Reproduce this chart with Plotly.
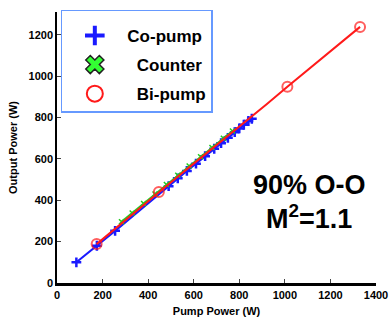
import plotly.graph_objects as go

# Co-pump data
co_pump_in = [85, 175, 255, 490, 530, 570, 610, 650, 690, 720, 750, 780, 800, 820, 840, 855]
co_pump_out = [100, 180, 252, 468, 506, 542, 577, 613, 649, 676, 702, 729, 747, 765, 783, 794]

# Counter-pump data
counter_in = [283, 330, 380, 430, 480, 530, 580, 630, 680, 730, 770]
counter_out = [296, 338, 384, 430, 476, 521, 566, 610, 655, 700, 735]

# Bi-pump data
bi_in = [174, 240, 300, 360, 447, 520, 600, 680, 760, 840, 875, 920, 1011, 1100, 1200, 1330]
bi_out = [188, 249, 304, 360, 440, 505, 577, 648, 719, 790, 822, 864, 949, 1030, 1120, 1238]
bi_marked = [True, False, False, False, True, False, False, False, False, False, False, False, True, False, False, True]

series_names = ["Co-pump", "Counter", "Bi-pump"]
x_ticks = [0, 200, 400, 600, 800, 1000, 1200, 1400]
y_ticks = [0, 200, 400, 600, 800, 1000, 1200]

BLUE = "#1a1aff"
GREEN = "#22cc22"
RED = "#ff1a1a"
FONT = "Liberation Sans, Arial, sans-serif"

fig = go.Figure()

fig.add_trace(go.Scatter(
    x=co_pump_in, y=co_pump_out, mode="lines+markers",
    line=dict(color=BLUE, width=2),
    marker=dict(symbol="cross-thin", size=7, line=dict(color=BLUE, width=2.5)),
    showlegend=False))
fig.add_trace(go.Scatter(
    x=counter_in, y=counter_out, mode="lines+markers",
    line=dict(color=GREEN, width=2),
    marker=dict(symbol="x-thin", size=5, line=dict(color=GREEN, width=1.5)),
    showlegend=False))
fig.add_trace(go.Scatter(
    x=bi_in, y=bi_out, mode="lines+markers",
    line=dict(color=RED, width=2),
    marker=dict(symbol="circle-open", size=[10 if m else 0 for m in bi_marked],
                color=RED, line=dict(color=RED, width=2)),
    showlegend=False))

# legend-only entries (bigger keys)
nb = "\u00a0"
fig.add_trace(go.Scatter(
    x=[None], y=[None], mode="markers", name=series_names[0],
    marker=dict(symbol="cross-thin", size=14, line=dict(color=BLUE, width=4)),
    legendgroup="a"))
fig.add_trace(go.Scatter(
    x=[None], y=[None], mode="markers", name=nb * 2 + series_names[1],
    marker=dict(symbol="x", size=16, color="#33ff33", line=dict(color="#222222", width=1.5)),
    legendgroup="b"))
fig.add_trace(go.Scatter(
    x=[None], y=[None], mode="markers", name=nb * 2 + series_names[2],
    marker=dict(symbol="circle-open", size=16, color=RED, line=dict(color=RED, width=2)),
    legendgroup="c"))

fig.add_annotation(x=0.79, y=0.362, xref="paper", yref="paper", xanchor="center", yanchor="middle",
                   text="<b>90% O-O</b>", showarrow=False,
                   font=dict(family=FONT, size=27, color="black"))
fig.add_annotation(x=0.79, y=0.245, xref="paper", yref="paper", xanchor="center", yanchor="middle",
                   text="<b>M<sup>2</sup>=1.1</b>", showarrow=False,
                   font=dict(family=FONT, size=27, color="black"))

fig.update_layout(
    width=390, height=320,
    margin=dict(l=57, r=14, t=11, b=37),
    paper_bgcolor="white", plot_bgcolor="white",
    font=dict(family=FONT, color="black"),
    legend=dict(
        x=0.012, y=1.004, xanchor="left", yanchor="top",
        bgcolor="white", bordercolor="#6699ff", borderwidth=1.5,
        font=dict(family=FONT, size=17, color="black", weight="bold"),
        title=dict(text=nb, font=dict(size=5)),
        traceorder="grouped", tracegroupgap=4,
        entrywidth=198, itemsizing="trace", itemwidth=55,
    ),
    xaxis=dict(
        range=[0, 1400], tickvals=x_ticks, ticks="inside", ticklen=4,
        showline=True, linecolor="black", linewidth=2.5, showgrid=False, zeroline=False,
        automargin=False,
        tickfont=dict(family=FONT, size=11, weight="bold"),
        title=dict(text="<b>Pump Power (W)</b>", font=dict(family=FONT, size=11), standoff=8),
    ),
    yaxis=dict(
        range=[0, 1310], tickvals=y_ticks, ticks="inside", ticklen=4,
        showline=True, linecolor="black", linewidth=1.5, showgrid=False, zeroline=False,
        automargin=False,
        tickfont=dict(family=FONT, size=11, weight="bold"),
        title=dict(text="<b>Output Power (W)</b>", font=dict(family=FONT, size=11), standoff=9),
    ),
)

fig.write_html("out.html", config={"displayModeBar": False},
               post_script="document.body.style.margin='0';")
